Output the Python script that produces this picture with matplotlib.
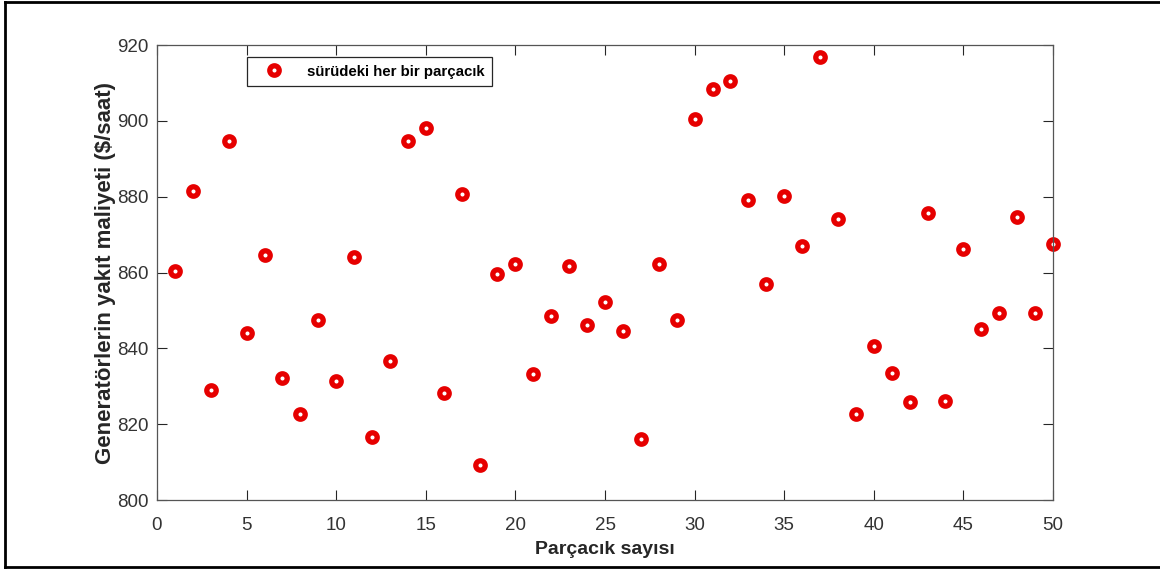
import numpy as np
import matplotlib
matplotlib.use("Agg")
import matplotlib.pyplot as plt
from matplotlib.lines import Line2D

plt.rcParams['font.family'] = ['Liberation Sans', 'DejaVu Sans']

# data
parcacik = np.arange(1, 51)
maliyet = [860.5, 881.4, 829.1, 894.6, 844.0, 864.7, 832.2, 822.7, 847.5, 831.4,
           864.2, 816.7, 836.7, 894.7, 898.1, 828.3, 880.7, 809.2, 859.6, 862.2,
           833.1, 848.5, 861.8, 846.1, 852.1, 844.7, 816.0, 862.3, 847.4, 900.4,
           908.3, 910.4, 879.1, 857.0, 880.3, 866.9, 916.8, 874.0, 822.8, 840.7,
           833.4, 825.9, 875.8, 826.1, 866.3, 845.0, 849.4, 874.6, 849.3, 867.4]
xticks = [0, 5, 10, 15, 20, 25, 30, 35, 40, 45, 50]
yticks = [800, 820, 840, 860, 880, 900, 920]

W, H = 1160, 570
fig = plt.figure(figsize=(W / 100, H / 100), dpi=100)
ax = fig.add_axes([157 / W, 70 / H, 896 / W, 455 / H])

red = '#e60000'
ax.plot(parcacik, maliyet, 'o', color=red, markerfacecolor='white',
        markeredgecolor=red, markersize=6.8, markeredgewidth=3.8,
        linestyle='none', label='sürüdeki her bir parçacık', clip_on=False)

ax.set_xlim(0, 50)
ax.set_ylim(800, 920)
ax.set_xticks(xticks)
ax.set_yticks(yticks)

gray = '#262626'
for s in ax.spines.values():
    s.set_color('#555555')
    s.set_linewidth(0.9)
ax.tick_params(direction='in', length=7, width=0.8, color=gray,
               top=True, right=True, labelsize=13.5, labelcolor='#333333')
ax.tick_params(axis='x', pad=12)
ax.tick_params(axis='y', pad=6)

ax.set_xlabel('Parçacık sayısı', fontsize=14, fontweight='bold',
              color=gray, labelpad=5)
ax.set_ylabel('Generatörlerin yakıt maliyeti ($/saat)', fontsize=16,
              fontweight='bold', color=gray, labelpad=1)

leg = ax.legend(loc='upper left', bbox_to_anchor=(0.1004, 0.9736),
                borderaxespad=0, fancybox=False, framealpha=1,
                edgecolor=gray, handlelength=2.6, handletextpad=0.9,
                borderpad=0.5,
                prop={'weight': 'bold', 'size': 10.8})
leg.get_frame().set_linewidth(0.9)

# outer frame around the picture
fig.add_artist(Line2D([5 / W, 5 / W], [3 / H, 1 - 1.5 / H], color='black', lw=2))
fig.add_artist(Line2D([5 / W, 1], [1 - 1.5 / H, 1 - 1.5 / H], color='black', lw=2))
fig.add_artist(Line2D([5 / W, 1], [3 / H, 3 / H], color='black', lw=2))

fig.savefig('out.png', dpi=100)
